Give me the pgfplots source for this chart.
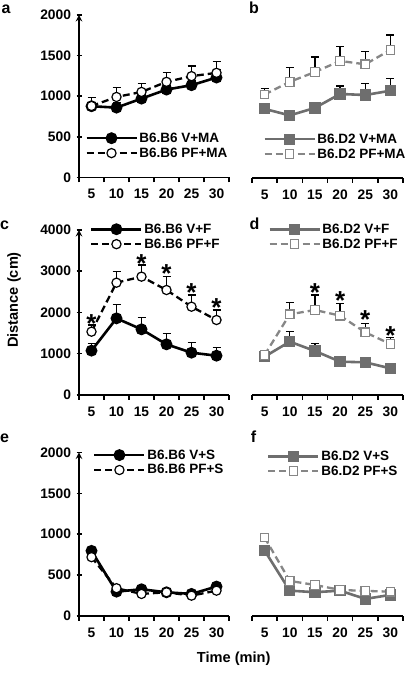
\documentclass[border=0pt]{standalone}
\usepackage{fontspec}
\setmainfont{Liberation Sans}
\usepackage{pgfplots}
\pgfplotsset{compat=1.18}
\usepackage{pgfplotstable}

\definecolor{dgray}{HTML}{6E6E6E}
\definecolor{lgray}{HTML}{868686}

% panel a
\pgfplotstableread{
x y e
5 877 50
10 860 60
15 971 50
20 1082 50
25 1136 60
30 1230 100
}\aV
\pgfplotstableread{
x y e
5 880 104
10 991 116
15 1053 104
20 1177 115
25 1247 127
30 1288 136
}\aP
% panel b
\pgfplotstableread{
x y e
5 848 40
10 768 40
15 860 61
20 1031 98
25 1018 144
30 1071 152
}\bV
\pgfplotstableread{
x y e
5 1025 70
10 1180 180
15 1300 185
20 1436 175
25 1395 155
30 1571 184
}\bP
% panel c
\pgfplotstableread{
x y e
5 1075 180
10 1858 340
15 1592 280
20 1228 270
25 1026 240
30 953 200
}\cV
\pgfplotstableread{
x y e
5 1535 160
10 2723 270
15 2869 280
20 2545 320
25 2141 285
30 1818 240
}\cP
% panel d
\pgfplotstableread{
x y e
5 929 40
10 1293 240
15 1067 185
20 808 100
25 792 110
30 646 80
}\dV
\pgfplotstableread{
x y e
5 970 40
10 1956 290
15 2061 360
20 1923 300
25 1519 220
30 1236 155
}\dP
% panel e
\pgfplotstableread{
x y e
5 797 45
10 298 30
15 327 30
20 290 20
25 270 20
30 360 40
}\eV
\pgfplotstableread{
x y e
5 720 30
10 340 20
15 270 20
20 290 20
25 249 20
30 310 20
}\eP
% panel f
\pgfplotstableread{
x y e
5 801 30
10 310 20
15 291 20
20 310 20
25 209 20
30 258 20
}\fV
\pgfplotstableread{
x y e
5 961 30
10 429 20
15 380 20
20 319 20
25 307 20
30 298 20
}\fP

\pgfplotsset{
  /pgf/number format/assume math mode=true,
  /pgf/number format/1000 sep={},
  panel/.style={
    scale only axis, anchor=south west, clip=false,
    xmin=2.5, xmax=32.5, ymin=0,
    axis x line=bottom,
    axis line style={line width=1.8pt,-},
    xtick={5,10,...,30},
    minor xtick={2.5,7.5,...,32.5},
    major x tick style={draw=none},
    minor x tick style={black,line width=1.5pt},
    minor tick length=5pt, major tick length=5pt,
    tick align=outside,
    ytick style={black,line width=1.5pt},
    xticklabel style={yshift=-3pt},
    yticklabel style={xshift=-2pt},
    every tick label/.append style={font=\fontsize{13.8}{15}\selectfont\bfseries},
    legend style={draw=none, fill=none, anchor=north west, legend cell align=left,
      row sep=1pt, inner sep=0pt, font=\fontsize{13.5}{15}\selectfont\bfseries,
      nodes={inner sep=1.5pt}},
    legend image code/.code={\draw[mark repeat=2,mark phase=2,##1] plot coordinates {(0pt,0pt) (25pt,0pt) (50pt,0pt)};},
  },
  leftpanel/.style={panel, axis y line=left, width=150pt},
  rightpanel/.style={panel, axis y line=none, ytick=\empty, width=151pt},
  sV/.style={black, solid, line width=2.6pt, mark=*, mark size=4.6pt, mark options={solid, fill=black}},
  sP/.style={black, dash pattern=on 7pt off 4pt, line width=2.3pt, mark=*, mark size=4.6pt, mark options={solid, fill=white, draw=black, line width=1.2pt}},
  gV/.style={dgray, solid, line width=2.6pt, mark=square*, mark size=4.3pt, mark options={solid, fill=dgray, draw=dgray}},
  gP/.style={lgray, dash pattern=on 7pt off 4pt, line width=2.3pt, mark=square*, mark size=4.3pt, mark options={solid, fill=white, draw=lgray, line width=1.2pt}},
  errs/.style={forget plot, only marks, mark=none, error bars/.cd, y dir=plus, y explicit, error mark=-,
    error bar style={black, solid, line width=1.3pt},
    error mark options={rotate=90, black, solid, line width=1.3pt, mark size=4pt}},
}
\newcommand{\sigstar}[2]{\node[anchor=base, yshift=-14.5pt, inner sep=0pt, font=\fontsize{26}{26}\selectfont\bfseries] at (axis cs:#1,#2) {*};}
\newcommand{\errplot}[1]{\addplot[errs] table[x=x,y=y,y error=e] {#1};}

\begin{document}
\begin{tikzpicture}[x=1pt,y=1pt]
\useasboundingbox (0,0) rectangle (407,676);

% ---------- a ----------
\begin{axis}[leftpanel, at={(79pt,498.5pt)}, height=162.5pt, ymax=2000, ytick={0,500,...,2000},
  legend style={at={(rel axis cs:0.04,0.286)}}]
\errplot{\aV}
\errplot{\aP}
\addplot[sV] table[x=x,y=y] {\aV};
\addlegendentry{B6.B6 V+MA}
\addplot[sP] table[x=x,y=y] {\aP};
\addlegendentry{B6.B6 PF+MA}
\end{axis}

% ---------- b ----------
\begin{axis}[rightpanel, at={(252pt,498pt)}, height=163pt, ymax=2000,
  legend style={at={(rel axis cs:0.073,0.282)}}]
\errplot{\bV}
\errplot{\bP}
\addplot[gV] table[x=x,y=y] {\bV};
\addlegendentry{B6.D2 V+MA}
\addplot[gP] table[x=x,y=y] {\bP};
\addlegendentry{B6.D2 PF+MA}
\end{axis}

% ---------- c ----------
\begin{axis}[leftpanel, at={(79pt,281pt)}, height=165pt, ymax=4000, ytick={0,1000,...,4000},
  legend style={at={(rel axis cs:0.073,1.048)}}]
\errplot{\cV}
\errplot{\cP}
\addplot[sV] table[x=x,y=y] {\cV};
\addlegendentry{B6.B6 V+F}
\addplot[sP] table[x=x,y=y] {\cP};
\addlegendentry{B6.B6 PF+F}
\sigstar{5}{1859}
\sigstar{15}{3314}
\sigstar{20}{3072}
\sigstar{25}{2625}
\sigstar{30}{2247}
\end{axis}

% ---------- d ----------
\begin{axis}[rightpanel, at={(252pt,281pt)}, height=165pt, ymax=4000,
  legend style={at={(rel axis cs:0.106,1.048)}}]
\errplot{\dV}
\errplot{\dP}
\addplot[gV] table[x=x,y=y] {\dV};
\addlegendentry{B6.D2 V+F}
\addplot[gP] table[x=x,y=y] {\dP};
\addlegendentry{B6.D2 PF+F}
\sigstar{15}{2625}
\sigstar{20}{2424}
\sigstar{25}{1956}
\sigstar{30}{1576}
\end{axis}

% ---------- e ----------
\begin{axis}[leftpanel, at={(79pt,60pt)}, height=163.5pt, ymax=2000, ytick={0,500,...,2000},
  legend style={at={(rel axis cs:0.093,1.028)}}]
\errplot{\eV}
\errplot{\eP}
\addplot[sV] table[x=x,y=y] {\eV};
\addlegendentry{B6.B6 V+S}
\addplot[sP] table[x=x,y=y] {\eP};
\addlegendentry{B6.B6 PF+S}
\end{axis}

% ---------- f ----------
\begin{axis}[rightpanel, at={(252pt,60pt)}, height=163.5pt, ymax=2000,
  legend style={at={(rel axis cs:0.099,1.021)}}]
\errplot{\fV}
\errplot{\fP}
\addplot[gV] table[x=x,y=y] {\fV};
\addlegendentry{B6.D2 V+S}
\addplot[gP] table[x=x,y=y] {\fP};
\addlegendentry{B6.D2 PF+S}
\end{axis}

% labels
\begin{scope}[every node/.style={inner sep=0pt}]
\node[anchor=base, font=\fontsize{16}{16}\selectfont\bfseries] at (6,662.7) {a};
\node[anchor=base, font=\fontsize{16}{16}\selectfont\bfseries] at (254,662.7) {b};
\node[anchor=base, font=\fontsize{16}{16}\selectfont\bfseries] at (4.5,446) {c};
\node[anchor=base, font=\fontsize{16}{16}\selectfont\bfseries] at (254.5,446) {d};
\node[anchor=base, font=\fontsize{16}{16}\selectfont\bfseries] at (4.5,233.5) {e};
\node[anchor=base, font=\fontsize{16}{16}\selectfont\bfseries] at (253.5,233.5) {f};
\node[rotate=90, font=\fontsize{14.6}{16}\selectfont\bfseries] at (14,376) {Distance (cm)};
\node[font=\fontsize{14.6}{16}\selectfont\bfseries] at (233.7,17.7) {Time (min)};
\end{scope}
\end{tikzpicture}
\end{document}
